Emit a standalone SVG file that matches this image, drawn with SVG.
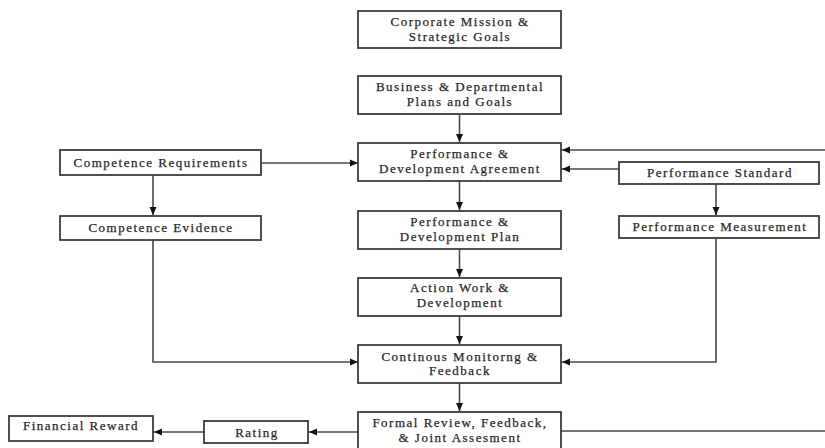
<svg xmlns="http://www.w3.org/2000/svg" width="825" height="448" viewBox="0 0 825 448">
<defs>
<marker id="ah" markerUnits="userSpaceOnUse" markerWidth="9" markerHeight="8" refX="8" refY="4" orient="auto">
<path d="M0,0.5 L8,4 L0,7.5 Z" fill="#111"/>
</marker>
<style>
.box{fill:#fff;stroke:#3c3c3c;stroke-width:1.8}
.t{font-family:"Liberation Serif","Times New Roman",serif;font-size:13px;fill:#222;stroke:#333;stroke-width:0.25;text-anchor:middle;letter-spacing:1.5px}
.c{fill:none;stroke:#4a4a4a;stroke-width:1.6}
.a{marker-end:url(#ah)}
</style>
</defs>
<rect width="825" height="448" fill="#fff"/>
<g id="connectors">
<path class="c a" d="M459.5,114 V142"/>
<path class="c a" d="M459.5,181 V210"/>
<path class="c a" d="M459.5,249 V277"/>
<path class="c a" d="M459.5,316 V344"/>
<path class="c a" d="M459.5,383 V411"/>
<path class="c a" d="M261,163 H358"/>
<path class="c a" d="M153,175 V215"/>
<path class="c a" d="M153,240 V362 H358"/>
<path class="c a" d="M825,150 H562"/>
<path class="c a" d="M619,169 H562"/>
<path class="c a" d="M716,184 V215"/>
<path class="c a" d="M716,238 V362 H562"/>
<path class="c a" d="M359,432 H309"/>
<path class="c a" d="M204,432 H154"/>
<path class="c" d="M561,431 H825"/>
</g>
<g id="corporate">
<rect class="box" x="358" y="11" width="203" height="37"/>
<text class="t" x="460" y="26">Corporate Mission &amp;</text>
<text class="t" x="460" y="41">Strategic Goals</text>
</g>
<g id="business">
<rect class="box" x="358" y="76" width="203" height="38"/>
<text class="t" x="460" y="91">Business &amp; Departmental</text>
<text class="t" x="460" y="106">Plans and Goals</text>
</g>
<g id="agreement">
<rect class="box" x="358" y="143" width="203" height="38"/>
<text class="t" x="460" y="158">Performance &amp;</text>
<text class="t" x="460" y="173">Development Agreement</text>
</g>
<g id="plan">
<rect class="box" x="358" y="211" width="203" height="38"/>
<text class="t" x="460" y="226">Performance &amp;</text>
<text class="t" x="460" y="241">Development Plan</text>
</g>
<g id="action">
<rect class="box" x="358" y="278" width="203" height="38"/>
<text class="t" x="460" y="292">Action Work &amp;</text>
<text class="t" x="460" y="307">Development</text>
</g>
<g id="monitoring">
<rect class="box" x="358" y="345" width="203" height="38"/>
<text class="t" x="460" y="361">Continous Monitorng &amp;</text>
<text class="t" x="460" y="375">Feedback</text>
</g>
<g id="review">
<rect class="box" x="358" y="412" width="203" height="40"/>
<text class="t" x="460" y="427">Formal Review, Feedback,</text>
<text class="t" x="460" y="442">&amp; Joint Assesment</text>
</g>
<g id="comp-req">
<rect class="box" x="60" y="150" width="201" height="25"/>
<text class="t" x="161" y="167">Competence Requirements</text>
</g>
<g id="comp-evidence">
<rect class="box" x="60" y="216" width="201" height="24"/>
<text class="t" x="161" y="232">Competence Evidence</text>
</g>
<g id="perf-standard">
<rect class="box" x="619" y="162" width="200" height="22"/>
<text class="t" x="720" y="177">Performance Standard</text>
</g>
<g id="perf-measurement">
<rect class="box" x="619" y="216" width="200" height="22"/>
<text class="t" x="720" y="231">Performance Measurement</text>
</g>
<g id="rating">
<rect class="box" x="204" y="421" width="104" height="22"/>
<text class="t" x="257" y="437">Rating</text>
</g>
<g id="financial">
<rect class="box" x="9" y="416" width="144" height="25"/>
<text class="t" x="81" y="430">Financial Reward</text>
</g>
</svg>
